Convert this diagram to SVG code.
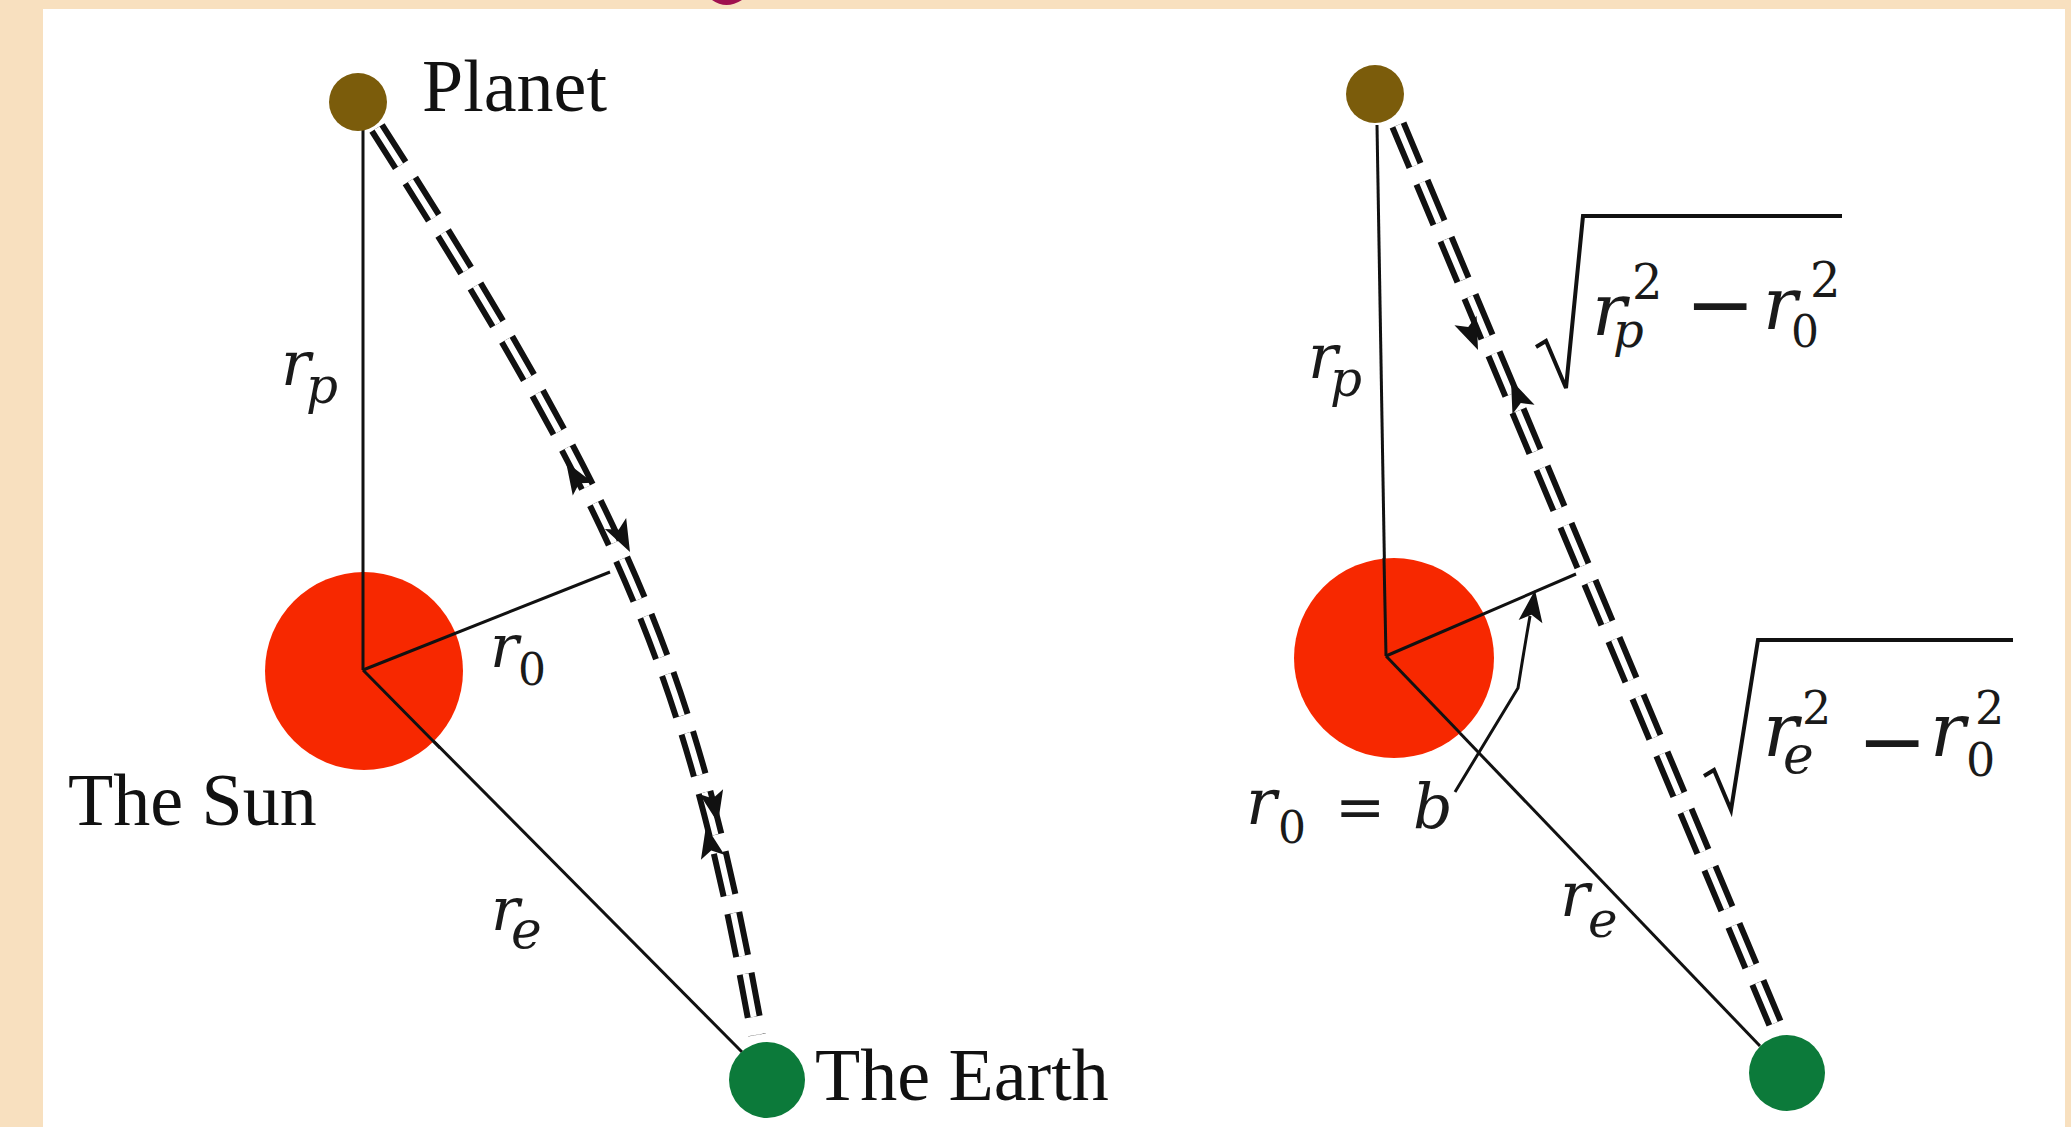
<svg xmlns="http://www.w3.org/2000/svg" xmlns:xlink="http://www.w3.org/1999/xlink" width="2071" height="1127" viewBox="0 0 2071 1127">
<style>
.lbl{font-family:"Liberation Serif","Times New Roman",serif;font-size:74px;fill:#111}
.mt{font-family:"DejaVu Serif","Liberation Serif",serif;fill:#1a1a1a}
.i{font-style:italic}
.thin{stroke:#111;stroke-width:3;fill:none}
.dashB{stroke:#111;stroke-width:18;fill:none;stroke-dasharray:44 18}
.dashW{stroke:#fff;stroke-width:6;fill:none;stroke-dasharray:44 18}
.ah{fill:#111}
.rad{stroke:#111;stroke-width:4;fill:none;stroke-linejoin:miter}
</style>
<defs>
<path id="ah" d="M0,0 L12,32 L0,25 L-12,32 Z"/>
</defs>
<rect x="0" y="0" width="2071" height="1127" fill="#F8E0BF"/>
<rect x="43" y="9" width="2022" height="1118" fill="#FFFFFF"/>
<path d="M712,0 Q726,10 742,0 Z" fill="#A0104F"/>

<g id="connectors">
  <!-- left panel -->
  <line class="thin" x1="363" y1="130" x2="363" y2="670"/>
  <line class="thin" x1="363" y1="670" x2="742" y2="1052"/>
  <path class="dashB" d="M377,128 C633,528 694,685 757,1035"/>
  <path class="dashW" d="M377,128 C633,528 694,685 757,1035"/>
  <use href="#ah" class="ah" transform="translate(566,462) rotate(-32)"/>
  <use href="#ah" class="ah" transform="translate(630,552) rotate(153)"/>
  <use href="#ah" class="ah" transform="translate(718,823) rotate(168)"/>
  <use href="#ah" class="ah" transform="translate(706,826) rotate(-12)"/>
  <!-- right panel -->
  <line class="thin" x1="1377" y1="125" x2="1386" y2="656"/>
  <line class="thin" x1="1386" y1="656" x2="1760" y2="1046"/>
  <path class="dashB" d="M1398,125 L1782,1040"/>
  <path class="dashW" d="M1398,125 L1782,1040"/>
  <use href="#ah" class="ah" transform="translate(1478,350) rotate(157)"/>
  <use href="#ah" class="ah" transform="translate(1511,380) rotate(-23)"/>
  <path class="thin" d="M1455,792 L1518,688 Q1524,650 1530,616"/>
  <use href="#ah" class="ah" transform="translate(1535,590) rotate(8)"/>
  <path class="rad" d="M1536,347 L1546,341 L1566,388 L1583,216 L1842,216"/>
  <path class="rad" d="M1704,776 L1714,770 L1731,810 L1758,640 L2013,640"/>
</g>

<g id="sun-left"><circle cx="364" cy="671" r="99" fill="#F72800"/><line class="thin" x1="363" y1="572" x2="363" y2="670"/><line class="thin" x1="363" y1="670" x2="610" y2="572"/><line class="thin" x1="363" y1="670" x2="440" y2="748"/></g>
<g id="planet-left"><circle cx="358" cy="102" r="29" fill="#7B5C0B"/></g>
<g id="earth-left"><circle cx="767" cy="1080" r="38" fill="#0C7A3A"/></g>
<g id="sun-right"><circle cx="1394" cy="658" r="100" fill="#F72800"/><line class="thin" x1="1384" y1="558" x2="1386" y2="656"/><line class="thin" x1="1386" y1="656" x2="1576" y2="574"/><line class="thin" x1="1386" y1="656" x2="1460" y2="733"/></g>
<g id="planet-right"><circle cx="1375" cy="94" r="29" fill="#7B5C0B"/></g>
<g id="earth-right"><circle cx="1787" cy="1073" r="38" fill="#0C7A3A"/></g>

<g id="labels">
  <text class="lbl" x="422" y="111">Planet</text>
  <text class="lbl" x="68" y="825">The Sun</text>
  <text class="lbl" x="815" y="1100">The Earth</text>

  <text class="mt i"><tspan x="281" y="385" font-size="62">r</tspan><tspan x="306" y="403" font-size="50">p</tspan></text>
  <text class="mt"><tspan class="i" x="490" y="667" font-size="60">r</tspan><tspan x="518" y="685" font-size="44">0</tspan></text>
  <text class="mt i"><tspan x="491" y="930" font-size="60">r</tspan><tspan x="511" y="948" font-size="52">e</tspan></text>

  <text class="mt i"><tspan x="1308" y="378" font-size="62">r</tspan><tspan x="1330" y="396" font-size="50">p</tspan></text>
  <text class="mt"><tspan class="i" x="1246" y="824" font-size="64">r</tspan><tspan x="1278" y="843" font-size="44">0</tspan><tspan x="1335" y="827" font-size="60">=</tspan><tspan class="i" x="1413" y="828" font-size="62">b</tspan></text>
  <text class="mt i"><tspan x="1560" y="916" font-size="62">r</tspan><tspan x="1588" y="937" font-size="50">e</tspan></text>

  <text class="mt"><tspan class="i" x="1592" y="335" font-size="72">r</tspan><tspan class="i" x="1613" y="347" font-size="48">p</tspan><tspan x="1632" y="299" font-size="48">2</tspan><tspan x="1685" y="333" font-size="84">−</tspan><tspan class="i" x="1763" y="329" font-size="72">r</tspan><tspan x="1791" y="347" font-size="44">0</tspan><tspan x="1810" y="297" font-size="48">2</tspan></text>

  <text class="mt"><tspan class="i" x="1763" y="756" font-size="74">r</tspan><tspan class="i" x="1783" y="773" font-size="52">e</tspan><tspan x="1802" y="724" font-size="46">2</tspan><tspan x="1857" y="770" font-size="84">−</tspan><tspan class="i" x="1930" y="756" font-size="74">r</tspan><tspan x="1966" y="776" font-size="46">0</tspan><tspan x="1975" y="724" font-size="46">2</tspan></text>
</g>
</svg>
